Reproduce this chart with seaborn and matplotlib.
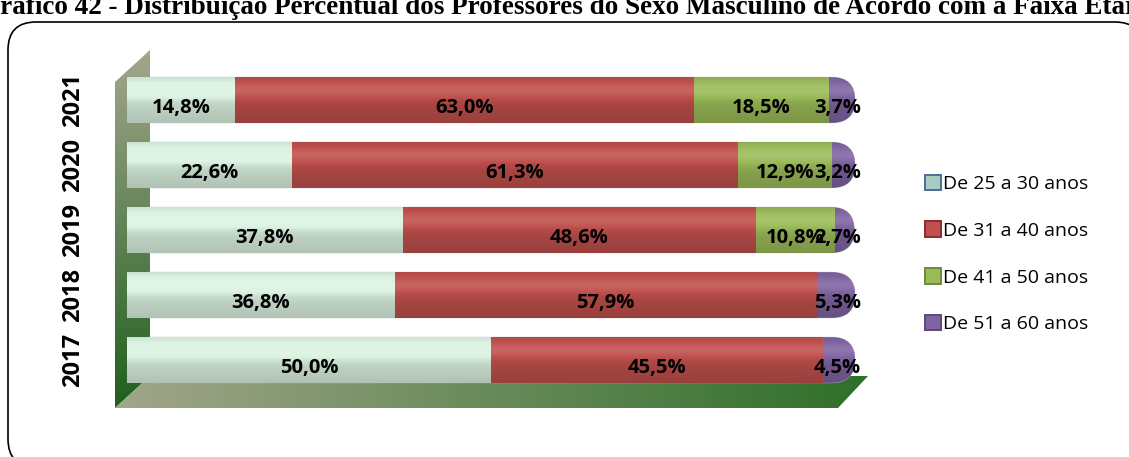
import numpy as np
import pandas as pd
import matplotlib
matplotlib.use("Agg")
import matplotlib.pyplot as plt
import seaborn as sns
from matplotlib.patches import FancyBboxPatch, Polygon, Rectangle
from matplotlib.colors import to_rgb

# ---------------------------------------------------------------------
# Data
# ---------------------------------------------------------------------
years = ["2021", "2020", "2019", "2018", "2017"]
faixa_25_30 = [14.8, 22.6, 37.8, 36.8, 50.0]
faixa_31_40 = [63.0, 61.3, 48.6, 57.9, 45.5]
faixa_41_50 = [18.5, 12.9, 10.8, 0.0, 0.0]
faixa_51_60 = [3.7, 3.2, 2.7, 5.3, 4.5]

series_names = ["De 25 a 30 anos", "De 31 a 40 anos", "De 41 a 50 anos", "De 51 a 60 anos"]
colors = ["#dcf3e2", "#c0504d", "#9bbb59", "#8064a2"]
title = ("Gráfico 42 - Distribuição Percentual dos Professores do Sexo "
         "Masculino de Acordo com a Faixa Etária")

df = pd.DataFrame({"ano": years,
                   series_names[0]: faixa_25_30,
                   series_names[1]: faixa_31_40,
                   series_names[2]: faixa_41_50,
                   series_names[3]: faixa_51_60})

W, H = 1129, 457
fig = plt.figure(figsize=(W / 100, H / 100), dpi=100)

# background axes in pixel coordinates (frame, 3D wall/floor, title)
bg = fig.add_axes([0, 0, 1, 1], zorder=0)
bg.set_xlim(0, W)
bg.set_ylim(H, 0)
bg.axis("off")

frame = FancyBboxPatch((8, 22), 1135, 445, boxstyle="round,pad=0,rounding_size=28",
                       facecolor="white", edgecolor="black", linewidth=1.2)
bg.add_patch(frame)


def gradient_fill(ax, poly_pts, c0, c1, horizontal):
    poly = Polygon(poly_pts, closed=True, facecolor="none", edgecolor="none")
    ax.add_patch(poly)
    xs = [p[0] for p in poly_pts]
    ys = [p[1] for p in poly_pts]
    t = np.linspace(0, 1, 200)
    a, b = np.array(to_rgb(c0)), np.array(to_rgb(c1))
    grad = a[None, :] * (1 - t[:, None]) + b[None, :] * t[:, None]
    if horizontal:
        img = grad[None, :, :]
    else:
        img = grad[:, None, :]
    im = ax.imshow(img, extent=[min(xs), max(xs), max(ys), min(ys)], aspect="auto",
                   interpolation="bilinear", zorder=2)
    im.set_clip_path(poly)


# wall (left) and floor
gradient_fill(bg, [(115, 82), (150, 50), (150, 376), (115, 408)], "#a3a68c", "#1f5f1f", False)
gradient_fill(bg, [(115, 408), (150, 376), (868, 376), (838, 408)], "#a2a68a", "#2f6f2a", True)

bg.text(W / 2 + 4, 7, title, ha="center", va="center", fontsize=19.5,
        fontweight="bold", family="Liberation Serif", zorder=5)

# ---------------------------------------------------------------------
# Stacked bars
# ---------------------------------------------------------------------
ax = fig.add_axes([127 / W, 1 - 392.5 / H, 728 / W, 325 / H], zorder=1)
ax.patch.set_alpha(0)

cum = df[series_names].cumsum(axis=1)
layers = []
for i in reversed(range(len(series_names))):
    name = series_names[i]
    n_before = len(ax.patches)
    sns.barplot(x=cum[name], y=df["ano"], orient="h", color=colors[i], width=0.7,
                saturation=1, ax=ax, zorder=2 + 2 * (3 - i))
    layers.append((i, ax.patches[n_before:]))


def shade_img(col):
    base = np.array(to_rgb(col))
    t = np.linspace(0, 1, 60)
    prof = 0.9 + 0.22 * np.exp(-((t - 0.28) / 0.2) ** 2) - 0.1 * t ** 2
    rgb = np.empty((60, 1, 3))
    for k, p in enumerate(prof):
        if p > 1:
            rgb[k, 0] = base + (1 - base) * (p - 1)
        else:
            rgb[k, 0] = base * p
    return np.clip(rgb, 0, 1)


for i, patches in layers:
    z = 2 + 2 * (3 - i)
    for p in patches:
        x0, y0 = p.get_x(), p.get_y()
        w, h = p.get_width(), p.get_height()
        if w <= 0:
            continue
        if i == 3:
            # full bar: rounded ends
            p.set_visible(False)
            clip = FancyBboxPatch((x0, y0), w, h,
                                  boxstyle="round,pad=0,rounding_size=3.2",
                                  mutation_aspect=0.11, facecolor=colors[i],
                                  edgecolor="#b8b8b8", linewidth=0.6, zorder=z)
            ax.add_patch(clip)
        else:
            clip = p
            p.set_zorder(z)
        im = ax.imshow(shade_img(colors[i]), extent=[x0, x0 + w, y0 + h, y0],
                       aspect="auto", interpolation="bilinear", zorder=z + 1)
        im.set_clip_path(clip)

ax.set_xlim(0, 100)
ax.set_ylim(4.5, -0.5)
ax.set_xlabel("")
ax.set_ylabel("")
ax.set_xticks([])
for s in ax.spines.values():
    s.set_visible(False)
ax.tick_params(axis="y", length=0, pad=30)
ax.set_yticks(range(len(years)))
ax.set_yticklabels(years, rotation=90, va="center", fontsize=17, fontweight="bold",
                   family="Open Sans")

# data labels
vals = df[series_names].values
for r in range(len(years)):
    left = 0.0
    for c in range(len(series_names)):
        v = vals[r, c]
        if v > 0:
            txt = f"{v:.1f}%".replace(".", ",")
            if c == len(series_names) - 1:
                ax.text(100.8, r + 0.12, txt, ha="right", va="center", fontsize=14.5,
                        fontweight="bold", family="Open Sans", zorder=20)
            else:
                ax.text(left + v / 2, r + 0.12, txt, ha="center", va="center",
                        fontsize=14.5, fontweight="bold", family="Open Sans", zorder=20)
        left += v

# legend
handles = [Rectangle((0, 0), 1, 1, facecolor=colors[k],
                     edgecolor=["#4a6f9a", "#8c2d2a", "#6f8a3a", "#5a4a78"][k], linewidth=1.4)
           for k in range(len(series_names))]
handles[0].set_facecolor("#a8cdc0")
leg = fig.legend(handles, series_names, loc="center left",
                 bbox_to_anchor=(907 / W, 1 - 254 / H), frameon=False,
                 prop={"family": "Open Sans", "size": 14}, handlelength=0.85,
                 handleheight=0.85, handletextpad=0.1, labelspacing=1.45)

fig.savefig("out.png", dpi=100)
